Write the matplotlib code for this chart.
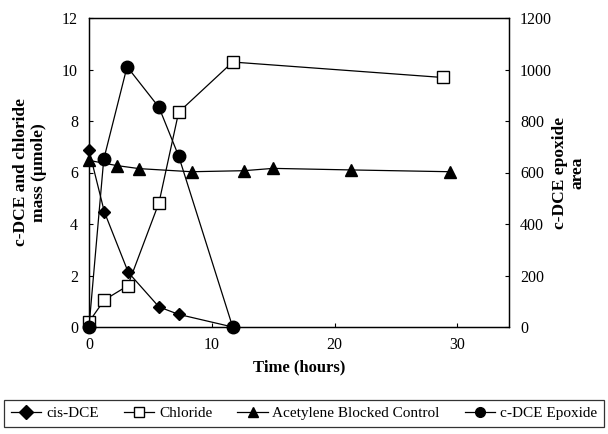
import matplotlib
matplotlib.use("Agg")
import matplotlib.pyplot as plt

plt.rcParams["font.family"] = ["Liberation Serif", "DejaVu Serif"]

# 数据
dce_t = [0, 1.25, 3.2, 5.7, 7.3, 11.7]
dce_v = [6.87, 4.47, 2.12, 0.78, 0.49, 0.0]

cl_t = [0, 1.25, 3.15, 5.7, 7.3, 11.7, 28.8]
cl_v = [0.2, 1.05, 1.6, 4.83, 8.34, 10.29, 9.69]

ac_t = [0, 2.25, 4.1, 8.35, 12.6, 15.0, 21.3, 29.4]
ac_v = [6.47, 6.27, 6.15, 6.03, 6.07, 6.16, 6.1, 6.03]

ep_t = [0, 1.2, 3.1, 5.7, 7.3, 11.7]
ep_v = [0, 651, 1011, 853, 664, 0]

fig = plt.figure(figsize=(6.08, 4.34), dpi=100)
ax = fig.add_axes([89 / 608, 1 - 327 / 434, 420 / 608, 309 / 434])
ax2 = ax.twinx()

kw = dict(color="black", lw=0.9, clip_on=False)
l1, = ax.plot(dce_t, dce_v, marker="D", ms=6.5, mfc="black", mec="black",
              label="cis-DCE", zorder=4, **kw)
l2, = ax.plot(cl_t, cl_v, marker="s", ms=8.5, mfc="white", mec="black",
              mew=1.0, label="Chloride", zorder=3, **kw)
l3, = ax.plot(ac_t, ac_v, marker="^", ms=9, mfc="black", mec="black",
              label="Acetylene Blocked Control", zorder=3, **kw)
l4, = ax2.plot(ep_t, ep_v, marker="o", ms=9, mfc="black", mec="black",
               label="c-DCE Epoxide", zorder=5, **kw)

ax.set_xlim(0, 34.2)
ax.set_ylim(0, 12)
ax2.set_ylim(0, 1200)
ax.set_xticks([0, 10, 20, 30])
ax.set_yticks(range(0, 13, 2))
ax2.set_yticks(range(0, 1201, 200))

for a in (ax, ax2):
    a.tick_params(direction="in", length=3, width=0.8, labelsize=11.5)
    for s in a.spines.values():
        s.set_linewidth(0.9)
ax.tick_params(axis="x", pad=7)
ax.tick_params(axis="y", pad=8)
ax2.tick_params(axis="y", pad=8)

ax.set_xlabel("Time (hours)", fontsize=12, fontweight="bold", labelpad=5)
ax.set_ylabel("c-DCE and chloride\nmass (\u00b5mole)", fontsize=12.5,
              fontweight="bold", labelpad=11, linespacing=1.1)
ax2.set_ylabel("c-DCE epoxide\narea", fontsize=12.5, fontweight="bold",
               rotation=90, labelpad=0, linespacing=1.1)

leg = fig.legend(handles=[l1, l2, l3, l4], loc="lower center", ncol=4,
                 fontsize=11, frameon=True, fancybox=False,
                 edgecolor="black", handlelength=2.0, handletextpad=0.3,
                 columnspacing=1.3, borderpad=0.45, borderaxespad=0,
                 mode="expand",
                 bbox_to_anchor=(4 / 608, 7 / 434, 600 / 608, 30 / 434),
                 bbox_transform=fig.transFigure)
leg.get_frame().set_linewidth(0.9)
for h in leg.legend_handles:
    h.set_markersize(7)

fig.savefig("out.png", dpi=100)
